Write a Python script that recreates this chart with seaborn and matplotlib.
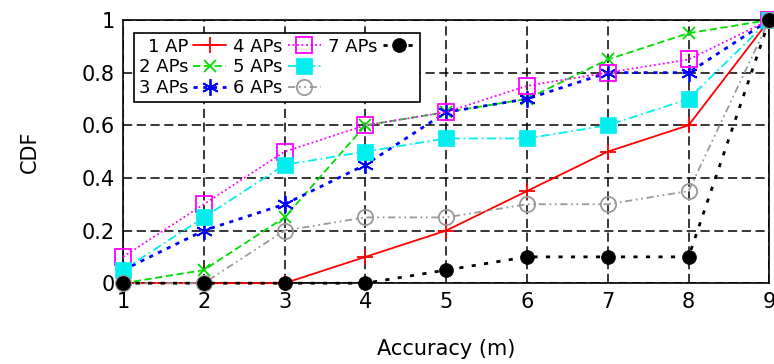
import matplotlib
matplotlib.use("Agg")
import matplotlib.pyplot as plt
import seaborn as sns
import pandas as pd
from matplotlib.lines import Line2D

sns.set_style("white")
plt.rcParams['font.family'] = ['DejaVu Sans']
plt.rcParams['text.color'] = 'black'
plt.rcParams['axes.labelcolor'] = 'black'
plt.rcParams['xtick.color'] = 'black'
plt.rcParams['ytick.color'] = 'black'

accuracy = [1, 2, 3, 4, 5, 6, 7, 8, 9]
labels = ["1 AP", "2 APs", "3 APs", "4 APs", "5 APs", "6 APs", "7 APs"]
cdf_1ap = [0, 0, 0, 0.10, 0.20, 0.35, 0.50, 0.60, 1.0]
cdf_2ap = [0, 0.05, 0.25, 0.60, 0.65, 0.70, 0.85, 0.95, 1.0]
cdf_3ap = [0.05, 0.20, 0.30, 0.45, 0.65, 0.70, 0.80, 0.80, 1.0]
cdf_4ap = [0.10, 0.30, 0.50, 0.60, 0.65, 0.75, 0.80, 0.85, 1.0]
cdf_5ap = [0.05, 0.25, 0.45, 0.50, 0.55, 0.55, 0.60, 0.70, 1.0]
cdf_6ap = [0, 0, 0.20, 0.25, 0.25, 0.30, 0.30, 0.35, 1.0]
cdf_7ap = [0, 0, 0, 0, 0.05, 0.10, 0.10, 0.10, 1.0]
series = [cdf_1ap, cdf_2ap, cdf_3ap, cdf_4ap, cdf_5ap, cdf_6ap, cdf_7ap]
y_ticks = [0, 0.2, 0.4, 0.6, 0.8, 1]
y_ticklabels = ["0", "0.2", "0.4", "0.6", "0.8", "1"]

styles = [
    dict(color="#ff0000", linestyle="-", marker="+", markersize=11, mew=1.3),
    dict(color="#00dd00", linestyle=(0, (4, 2)), marker="x", markersize=9, mew=1.3),
    dict(color="#0000ff", linestyle=(0, (1.5, 2)), marker=(6, 2, 0), markersize=12, mew=1.3, lw=2),
    dict(color="#ff00ff", linestyle=(0, (1, 1.5)), marker="s", markersize=11, mfc="none", mew=1.3),
    dict(color="#00eeee", linestyle=(0, (5, 2, 1, 2)), marker="s", markersize=11, mew=0.5),
    dict(color="#999999", linestyle=(0, (4, 2, 1, 2, 1, 2)), marker="o", markersize=11, mfc="none", mew=1.3),
    dict(color="#000000", linestyle=(0, (1.5, 3)), marker="o", markersize=10, mew=0.5, lw=2),
]

fig = plt.figure(figsize=(7.74, 3.64), dpi=100)
ax = fig.add_axes([0.159, 0.222, 0.835, 0.723])

handles = []
for lab, vals, st in zip(labels, series, styles):
    df = pd.DataFrame({"Accuracy": accuracy, "CDF": vals})
    st = dict(st)
    lw = st.pop("lw", 1.3)
    mew = st.pop("mew")
    sns.lineplot(data=df, x="Accuracy", y="CDF", ax=ax, lw=lw, clip_on=False, zorder=3,
                 markeredgewidth=mew, markeredgecolor=st["color"], **st)
    handles.append(Line2D([], [], lw=lw, markeredgewidth=mew, markeredgecolor=st["color"], **st))

ax.set_xlim(1, 9)
ax.set_ylim(0, 1)
ax.set_xticks(accuracy)
ax.set_yticks(y_ticks)
ax.set_yticklabels(y_ticklabels)
ax.tick_params(labelsize=15, length=0, pad=6, colors="black")
ax.grid(True, color="black", linestyle=(0, (6, 3)), lw=1.1)
for s in ax.spines.values():
    s.set_color("black")
    s.set_linewidth(1.2)
ax.set_xlabel("Accuracy (m)", fontsize=15, labelpad=20, color="black")
ax.set_ylabel("CDF", fontsize=15, labelpad=30, color="black")

blank = Line2D([], [], alpha=0)
leg_handles = handles + [blank, blank]
leg_labels = labels + ["", ""]
leg = ax.legend(leg_handles, leg_labels, ncol=3, loc="upper left",
                bbox_to_anchor=(0.017, 0.95), markerfirst=False, fontsize=13,
                frameon=True, fancybox=False, framealpha=1, edgecolor="black",
                handlelength=1.8, handletextpad=0.3, columnspacing=0.4,
                labelspacing=0.15, borderpad=0.25, borderaxespad=0)
leg.get_frame().set_linewidth(1.2)
for t in leg.get_texts():
    t.set_color("black")

fig.savefig("out.png", dpi=100)
